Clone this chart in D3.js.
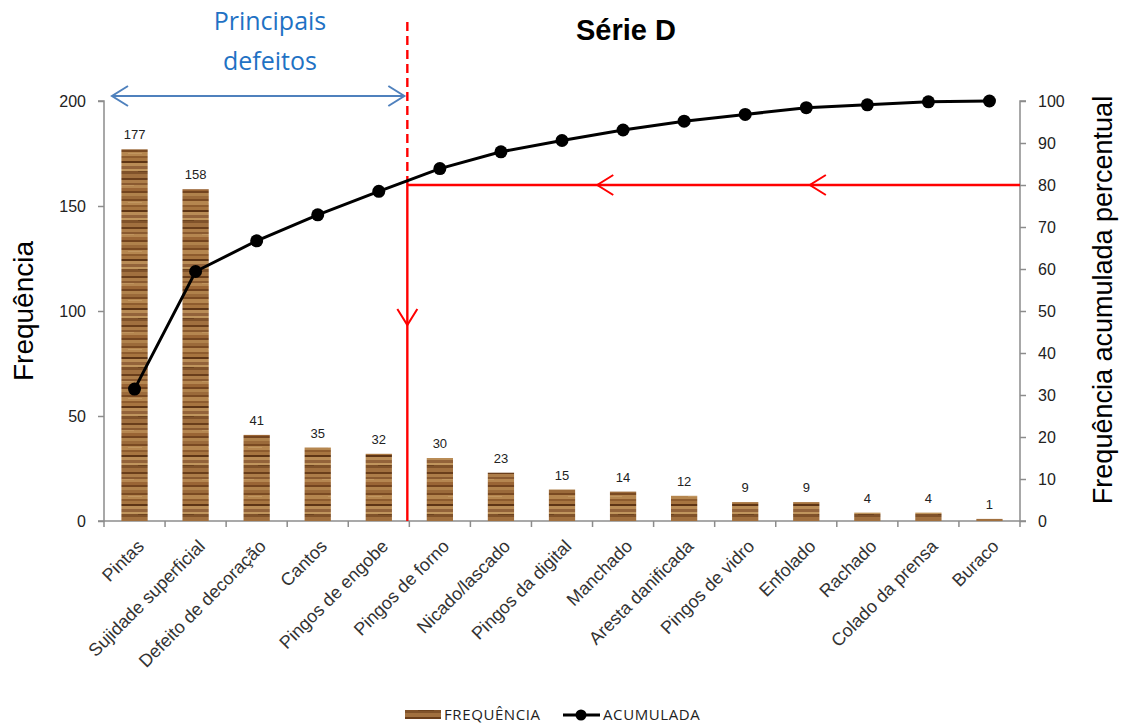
<!DOCTYPE html>
<html>
<head>
<meta charset="utf-8">
<script src="https://cdn.jsdelivr.net/npm/d3@7"></script>
<style>
  html, body { margin: 0; padding: 0; background: #fff; }
  svg { display: block; font-family: "Liberation Sans", Arial, sans-serif; }
</style>
</head>
<body>
<svg id="chart" width="1128" height="726"></svg>
<script>
// Pareto data: defect categories, counts and cumulative percentage
const categories = [
  "Pintas", "Sujidade superficial", "Defeito de decoração", "Cantos",
  "Pingos de engobe", "Pingos de forno", "Nicado/lascado", "Pingos da digital",
  "Manchado", "Aresta danificada", "Pingos de vidro", "Enfolado",
  "Rachado", "Colado da prensa", "Buraco"
];
const frequencia = [177, 158, 41, 35, 32, 30, 23, 15, 14, 12, 9, 9, 4, 4, 1];
const acumulada = [31.4, 59.4, 66.7, 72.9, 78.5, 83.9, 87.9, 90.6, 93.1, 95.2, 96.8, 98.4, 99.1, 99.8, 100];
const leftTicks = [0, 50, 100, 150, 200];
const rightTicks = [0, 10, 20, 30, 40, 50, 60, 70, 80, 90, 100];
const cutoffPercent = 80;
const principaisCount = 5;

const svg = d3.select("#chart");
const margin = { left: 104, right: 108, top: 101, bottom: 205 };
const W = 1128, H = 726;
const x0 = margin.left, x1 = W - margin.right;
const yTop = margin.top, yBot = H - margin.bottom;

const x = d3.scaleBand().domain(categories).range([x0, x1]).paddingInner(0.57).paddingOuter(0.285);
const xb = d3.scaleBand().domain(categories).range([x0, x1]);
const yL = d3.scaleLinear().domain([0, 200]).range([yBot, yTop]);
const yR = d3.scaleLinear().domain([0, 100]).range([yBot, yTop]);

const axisGray = "#8c8c8c";

// wood-grain fill for the bars
const defs = svg.append("defs");
const stripes = [
  ["#9b6a3a", 3], ["#7a4a22", 2], ["#b5864f", 4], ["#8e5c2e", 2], ["#a77540", 3],
  ["#5e3515", 2], ["#b98c56", 3], ["#93633a", 3], ["#c0955d", 2], ["#80522a", 3],
  ["#a1703f", 4], ["#6a3e1b", 2], ["#ad7d49", 3], ["#8a5a30", 2], ["#b58650", 3],
  ["#9a6535", 3], ["#73441f", 2], ["#b0824c", 3]
];
const patH = d3.sum(stripes, d => d[1]);
const pat = defs.append("pattern").attr("id", "wood").attr("patternUnits", "userSpaceOnUse")
  .attr("width", 40).attr("height", patH);
let acc = 0;
stripes.forEach(([c, h]) => {
  pat.append("rect").attr("x", 0).attr("y", acc).attr("width", 40).attr("height", h).attr("fill", c);
  acc += h;
});
pat.append("rect").attr("x", 8).attr("y", 6).attr("width", 14).attr("height", 1).attr("fill", "#c9a06a").attr("opacity", 0.6);
pat.append("rect").attr("x", 18).attr("y", 24).attr("width", 16).attr("height", 1).attr("fill", "#5a3314").attr("opacity", 0.5);
pat.append("rect").attr("x", 2).attr("y", 38).attr("width", 12).attr("height", 1).attr("fill", "#c9a06a").attr("opacity", 0.5);

// axes
const gL = svg.append("g").attr("transform", `translate(${x0},0)`)
  .call(d3.axisLeft(yL).tickValues(leftTicks).tickSize(6).tickPadding(12));
const gR = svg.append("g").attr("transform", `translate(${x1},0)`)
  .call(d3.axisRight(yR).tickValues(rightTicks).tickSize(6).tickPadding(12));
[gL, gR].forEach(g => {
  const s = g === gL ? -6 : 6;
  g.select(".domain").attr("stroke", axisGray).attr("stroke-width", 1.5).attr("d", `M${s},${yTop}H0V${yBot}H${s}`);
  g.selectAll(".tick line").attr("stroke", axisGray).attr("stroke-width", 1.5);
  g.selectAll(".tick text").attr("font-size", 16).attr("fill", "#222");
});

// category axis with ticks at band boundaries
const gx = svg.append("g").attr("transform", `translate(0,${yBot})`);
gx.append("line").attr("x1", x0).attr("x2", x1).attr("stroke", axisGray).attr("stroke-width", 1.5);
gx.selectAll(".bt").data(categories.concat(["__end"])).join("line")
  .attr("x1", (d, i) => i < categories.length ? xb(d) : x1)
  .attr("x2", (d, i) => i < categories.length ? xb(d) : x1)
  .attr("y1", 0).attr("y2", 6).attr("stroke", axisGray).attr("stroke-width", 1.5);
gx.selectAll(".lbl").data(categories).join("text")
  .attr("transform", d => `translate(${x(d) + x.bandwidth() / 2 + 6},${22}) rotate(-45)`)
  .attr("text-anchor", "end").attr("dy", "0.35em")
  .attr("font-size", 18).attr("fill", "#333").text(d => d);

// bars
svg.append("g").selectAll("rect").data(frequencia).join("rect")
  .attr("x", (d, i) => x(categories[i]))
  .attr("y", d => yL(d))
  .attr("width", x.bandwidth())
  .attr("height", d => yBot - yL(d))
  .attr("fill", "url(#wood)");

// bar value labels
svg.append("g").selectAll("text").data(frequencia).join("text")
  .attr("x", (d, i) => x(categories[i]) + x.bandwidth() / 2)
  .attr("y", d => yL(d) - 10)
  .attr("text-anchor", "middle").attr("font-size", 13).attr("fill", "#222")
  .text(d => d);

// Pareto reference lines and arrows (red)
const cutX = xb(categories[principaisCount]) - 2;
const cutY = yR(cutoffPercent);
const red = "#ff0000";
const ann = svg.append("g");
ann.append("line").attr("x1", cutX).attr("x2", cutX).attr("y1", 22).attr("y2", cutY)
  .attr("stroke", red).attr("stroke-width", 2.4).attr("stroke-dasharray", "9,5");
ann.append("line").attr("x1", cutX).attr("x2", cutX).attr("y1", cutY).attr("y2", yBot)
  .attr("stroke", red).attr("stroke-width", 2.4);
ann.append("line").attr("x1", cutX).attr("x2", x1).attr("y1", cutY).attr("y2", cutY)
  .attr("stroke", red).attr("stroke-width", 2.4);
const chevL = (cx, cy) => `M${cx + 16},${cy - 10}L${cx},${cy}L${cx + 16},${cy + 10}`;
[0.31, 0.657].forEach(f => {
  ann.append("path").attr("d", chevL(cutX + (x1 - cutX) * f, cutY)).attr("fill", "none").attr("stroke", red).attr("stroke-width", 2);
});
const vy = yL(100);
ann.append("path").attr("d", `M${cutX - 10},${vy - 2}L${cutX},${vy + 14}L${cutX + 10},${vy - 2}`)
  .attr("fill", "none").attr("stroke", red).attr("stroke-width", 2);

// cumulative line
const cx = (d, i) => x(categories[i]) + x.bandwidth() / 2;
svg.append("path").datum(acumulada)
  .attr("d", d3.line().x(cx).y(d => yR(d)))
  .attr("fill", "none").attr("stroke", "#000").attr("stroke-width", 3);
svg.append("g").selectAll("circle").data(acumulada).join("circle")
  .attr("cx", cx).attr("cy", d => yR(d)).attr("r", 6.5).attr("fill", "#000");

// "Principais defeitos" span arrow
const blue = "#4f81bd";
const ay = 96, ax0 = x0 + 8, ax1 = cutX - 3;
const ba = svg.append("g").attr("stroke", blue).attr("stroke-width", 2).attr("fill", "none");
ba.append("line").attr("x1", ax0).attr("x2", ax1).attr("y1", ay).attr("y2", ay);
ba.append("path").attr("d", `M${ax0 + 16},${ay - 10}L${ax0},${ay}L${ax0 + 16},${ay + 10}`);
ba.append("path").attr("d", `M${ax1 - 16},${ay - 10}L${ax1},${ay}L${ax1 - 16},${ay + 10}`);
const pt = svg.append("text").attr("text-anchor", "middle").attr("fill", "#1f72c4")
  .attr("font-family", "'Open Sans', 'Noto Sans', sans-serif").attr("font-size", 25);
pt.append("tspan").attr("x", 270).attr("y", 30).text("Principais");
pt.append("tspan").attr("x", 270).attr("y", 70).text("defeitos");

// title
svg.append("text").attr("x", 626).attr("y", 40).attr("text-anchor", "middle")
  .attr("font-size", 29).attr("font-weight", "bold").attr("fill", "#000").text("Série D");

// axis titles
svg.append("text").attr("transform", `translate(33,311) rotate(-90)`)
  .attr("text-anchor", "middle").attr("font-size", 28).attr("fill", "#000").text("Frequência");
svg.append("text").attr("transform", `translate(1112,300) rotate(-90)`)
  .attr("text-anchor", "middle").attr("font-size", 27).attr("fill", "#000").text("Frequência acumulada percentual");

// legend
const lg = svg.append("g").attr("font-family", "'Open Sans', 'Noto Sans', sans-serif").attr("font-size", 15)
  .attr("letter-spacing", 0.6).attr("fill", "#222");
lg.append("rect").attr("x", 405).attr("y", 710).attr("width", 36).attr("height", 9).attr("fill", "url(#wood)");
lg.append("text").attr("x", 444).attr("y", 720).text("FREQUÊNCIA");
lg.append("line").attr("x1", 563).attr("x2", 600).attr("y1", 715).attr("y2", 715).attr("stroke", "#000").attr("stroke-width", 3);
lg.append("circle").attr("cx", 581).attr("cy", 715).attr("r", 5.5).attr("fill", "#000");
lg.append("text").attr("x", 603).attr("y", 720).text("ACUMULADA");
</script>
</body>
</html>
